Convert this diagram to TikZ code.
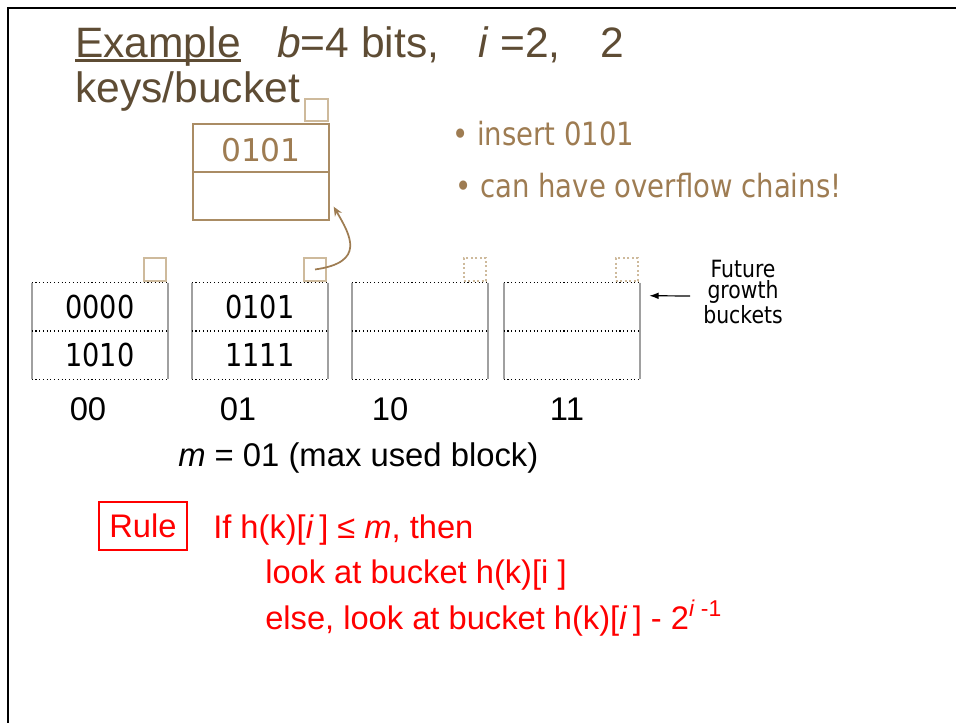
\documentclass[tikz,border=0pt]{standalone}
\usepackage{fontspec}
\setmainfont{Liberation Sans}
\newfontfamily\slidefont[FakeStretch=0.86]{DejaVu Sans}
\newfontfamily\widefont{DejaVu Sans}
\usetikzlibrary{arrows.meta, positioning, calc}
\definecolor{cTitle}{RGB}{94,76,52}
\definecolor{cTan}{RGB}{158,124,82}
\definecolor{cTanBox}{RGB}{170,140,100}
\definecolor{cTanLight}{RGB}{206,186,156}
\definecolor{cSide}{RGB}{160,160,160}
\definecolor{cRule}{RGB}{255,0,0}
\tikzset{
	bucket/.style  ={rectangle, minimum width=102pt, minimum height=72pt, inner sep=0pt},
	ptrbox/.style  ={rectangle, draw=cTanLight, line width=1.4pt, minimum size=17pt, inner sep=0pt},
	ptrfree/.style ={ptrbox, dotted},
	keytxt/.style  ={font=\slidefont\fontsize{23.7}{28}\selectfont, inner sep=0pt},
	cellline/.style={dotted, line width=0.8pt},
	sideline/.style={cSide, line width=1.2pt},
	chain/.style   ={-{Stealth[length=7pt, width=6pt]}, cTan, line width=1.3pt},
	% text lines of the slide
	ttl/.style     ={font=\fontsize{31.9}{36}\selectfont, text=cTitle, inner sep=0pt, anchor=base west},
	bultxt/.style  ={font=\slidefont\fontsize{24}{28}\selectfont, text=cTan, inner sep=0pt, anchor=base west},
	lbl/.style     ={font=\fontsize{24.6}{28}\selectfont, inner sep=0pt, anchor=base},
	ruletxt/.style ={font=\fontsize{24.5}{30}\selectfont, text=cRule, inner sep=0pt, anchor=base west},
}

\begin{document}
\begin{tikzpicture}[x=0.75pt, y=-0.75pt]
	\useasboundingbox (0,0) rectangle (956,723);
	\draw[line width=2.2pt] (8,723) -- (8,8) -- (956,8);

	% heading
	\node[ttl] (hEx) at (75,58) {Example};
	\draw[cTitle, line width=1.6pt] ($(hEx.base west)+(0,2.5)$) -- ($(hEx.base east)+(0,2.5)$);
	\node[ttl] (hB) at (277,58) {\textit{b}=4 bits,};
	\node[ttl] (hI) at (478,58) {\textit{i} =2,};
	\node[ttl] (hN) at (600,58) {2};
	\node[ttl] (hK) at (75,103) {keys/bucket};

	\node[bultxt] (n1) at (452,146) {• insert 0101};
	\node[bultxt] (n2) at (455,198) {• can have overflow chains!};

	% primary buckets 00 .. 11
	\foreach \n/\x in {0/100, 1/260, 2/420, 3/572}{
		\node[bucket] (b\n) at (\x,331) {};
		\draw[sideline] (b\n.north west) -- (b\n.south west) (b\n.north east) -- (b\n.south east);
		\draw[cellline] (b\n.north west) -- (b\n.north east) (b\n.west) -- (b\n.east) (b\n.south west) -- (b\n.south east);
	}
	\foreach \n in {0,1}
		\node[ptrbox, anchor=south east] (p\n) at ($(b\n.north east)+(-1,-1)$) {};
	\foreach \n in {2,3}
		\node[ptrfree, anchor=south east] (p\n) at ($(b\n.north east)+(-1,-1)$) {};

	\node[keytxt] (k0a) at ($(b0.center)+(0,-24)$) {0000};
	\node[keytxt] (k0b) at ($(b0.center)+(0,24)$) {1010};
	\node[keytxt] (k1a) at ($(b1.center)+(0,-24)$) {0101};
	\node[keytxt] (k1b) at ($(b1.center)+(0,24)$) {1111};

	% overflow bucket hanging off 01
	\node[bucket, draw=cTanBox, line width=1pt] (ov) at (261,172) {};
	\draw[cTanBox, line width=1pt] (ov.west) -- (ov.east);
	\node[ptrbox, anchor=south east] (pov) at ($(ov.north east)+(-1,-1)$) {};
	\node[keytxt, font=\widefont\fontsize{23.5}{28}\selectfont, text=cTan] (kov) at ($(ov.center)+(0,-22)$) {0101};
	\coordinate (ovin) at ($(ov.south east)+(4,-14)$);
	\draw[chain] (p1.center) .. controls +(51,-7) and +(17,29) .. (ovin);

	\node[align=center, font=\slidefont\fontsize{17.8}{15.8}\selectfont, inner sep=0pt] (fut) at (743,292) {Future\\growth\\buckets};
	\coordinate (futin) at ($(b3.north east)+(9,13)$);
	\draw[-{Latex[length=7pt, width=5pt]}, line width=0.9pt] ($(fut.west)+(-13,4)$) -- (futin);

	\node[lbl] (c00) at (88,420) {00};
	\node[lbl] (c01) at (238,420) {01};
	\node[lbl] (c10) at (390,420) {10};
	\node[lbl] (c11) at (567,420) {11};
	\node[lbl, anchor=base west] (mx) at (178,466) {\textit{m} = 01 (max used block)};

	% lookup rule
	\node[draw=cRule, line width=0.9pt, minimum width=66pt, minimum height=36pt, inner sep=0pt, text=cRule, font=\fontsize{24.5}{30}\selectfont] (rbox) at (143,526) {Rule};
	\node[ruletxt] (r1) at (213,538) {If h(k)[\textit{i}\,] ≤ \textit{m}, then};
	\node[ruletxt] (r2) at (265,583) {look at bucket h(k)[i ]};
	\node[ruletxt] (r3) at (265,629) {else, look at bucket h(k)[\textit{i}\,] - 2\textsuperscript{\textit{i} -1}};
\end{tikzpicture}
\end{document}
